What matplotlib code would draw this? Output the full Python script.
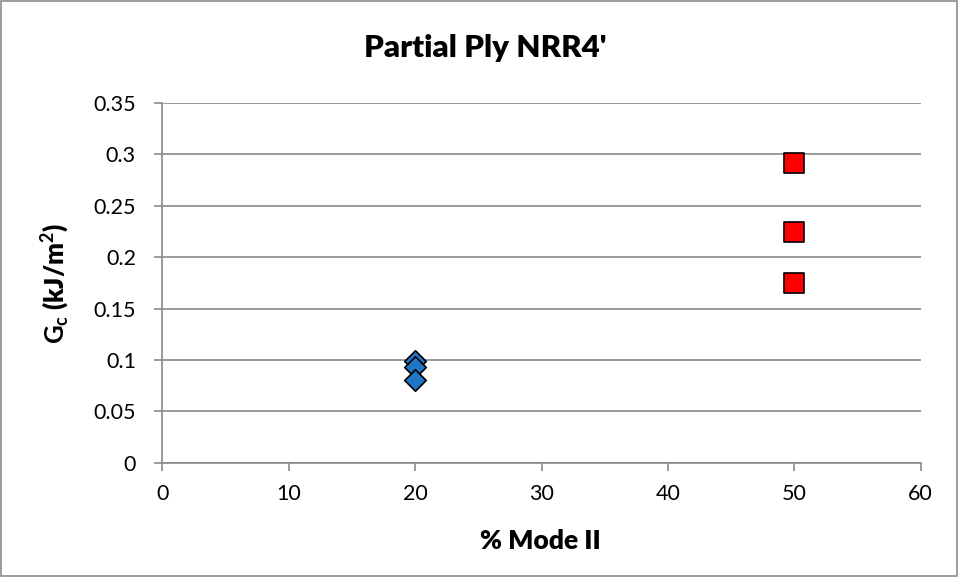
import matplotlib
matplotlib.use("Agg")
import matplotlib.pyplot as plt
from matplotlib.patches import Rectangle

# Data
mode2_blue = [20, 20, 20]
gc_blue = [0.099, 0.093, 0.080]
mode2_red = [50, 50, 50]
gc_red = [0.292, 0.224, 0.175]

x_ticks = [0, 10, 20, 30, 40, 50, 60]
y_ticks = [0, 0.05, 0.1, 0.15, 0.2, 0.25, 0.3, 0.35]
y_tick_labels = ["0", "0.05", "0.1", "0.15", "0.2", "0.25", "0.3", "0.35"]

plt.rcParams['font.family'] = ['Lato', 'DejaVu Sans']
plt.rcParams['mathtext.fontset'] = 'custom'
plt.rcParams['mathtext.rm'] = 'Lato:bold'
plt.rcParams['mathtext.it'] = 'Lato:bold'
plt.rcParams['mathtext.bf'] = 'Lato:bold'

fig = plt.figure(figsize=(9.58, 5.77), dpi=100)
fig.patch.set_facecolor('white')
fig.add_artist(Rectangle((0.001, 0.001), 0.998, 0.997, transform=fig.transFigure,
                         fill=False, edgecolor='#8c8c8c', linewidth=1.2))

ax = fig.add_axes([0.1694, 0.1981, 0.7917, 0.6234])

grid_c = '#8a8a8a'
ax.set_xlim(0, 60)
ax.set_ylim(0, 0.35)
ax.set_xticks(x_ticks)
ax.set_yticks(y_ticks)
ax.set_yticklabels(y_tick_labels)
ax.yaxis.grid(True, color=grid_c, linewidth=1.2)
ax.set_axisbelow(True)

for s in ['top', 'right']:
    ax.spines[s].set_visible(False)
for s in ['left', 'bottom']:
    ax.spines[s].set_color(grid_c)
    ax.spines[s].set_linewidth(1.2)
ax.tick_params(axis='both', colors=grid_c, labelcolor='black', labelsize=15.5,
               direction='out', length=6, width=1.2)
ax.tick_params(axis='x', pad=9)
ax.tick_params(axis='y', pad=13)

ax.scatter(mode2_blue, gc_blue, marker='D', s=120, facecolor='#1f77c4',
           edgecolor='black', linewidth=1.2, zorder=3, clip_on=False)
ax.scatter(mode2_red, gc_red, marker='s', s=195, facecolor='#ff0000',
           edgecolor='black', linewidth=1.2, zorder=3, clip_on=False)

fig.text(540 / 958, 1 - 541 / 577, '% Mode II', ha='center', va='center',
         fontsize=19, fontweight='heavy')
fig.text(56 / 958, 1 - 283 / 577, r'$\mathrm{G_c}$ (kJ/m$^\mathrm{2}$)',
         ha='center', va='center', rotation=90, fontsize=18.5, fontweight='heavy')
fig.text(485 / 958, 1 - 48 / 577, "Partial Ply NRR4'", ha='center', va='center',
         fontsize=22.5, fontweight='heavy')

fig.savefig('out.png', dpi=100)
